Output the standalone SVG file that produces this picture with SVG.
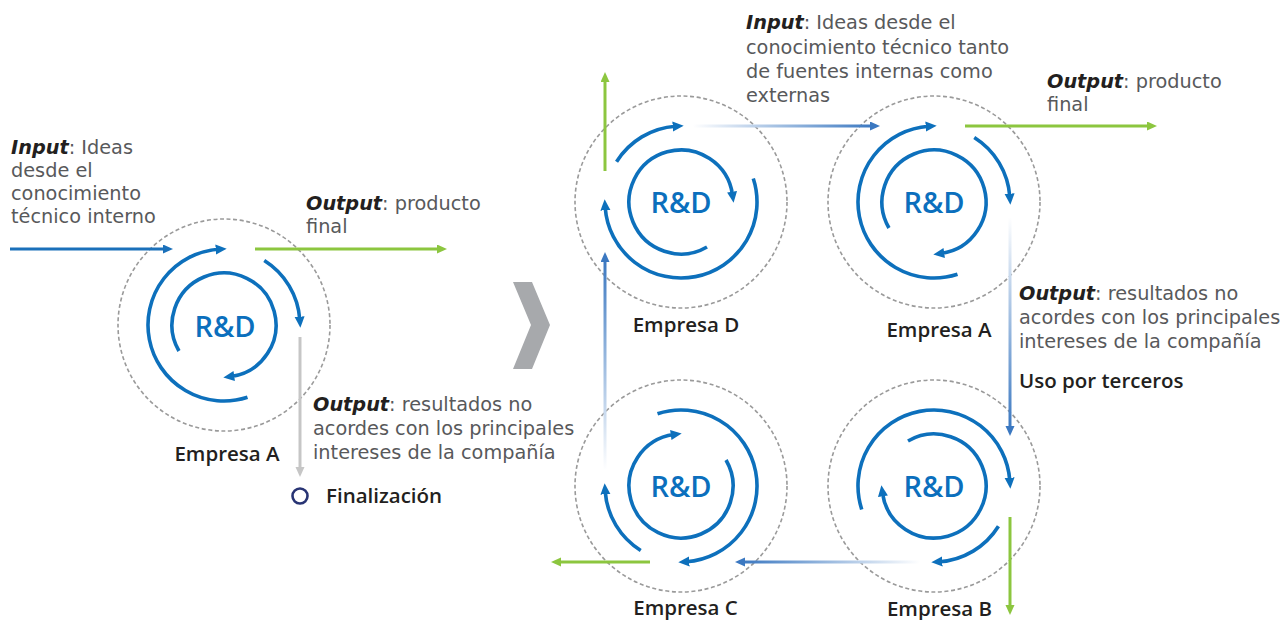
<svg xmlns="http://www.w3.org/2000/svg" width="1285" height="620" viewBox="0 0 1285 620">
  <style>
    .txt { font-family: "DejaVu Sans", "Open Sans", sans-serif; font-size: 19.3px; fill: #58595b; }
    .em { font-weight: 700; font-style: italic; fill: #231f20; }
    .lbl { font-family: "Open Sans", "Liberation Sans", sans-serif; font-size: 20.5px; font-weight: 600; fill: #231f20; }
    .rd { font-family: "Open Sans", "Liberation Sans", sans-serif; font-size: 29px; font-weight: 600; fill: #0b6fbd; text-anchor: middle; }
    .dash { fill: none; stroke: #9a9a9a; stroke-width: 1.6; stroke-dasharray: 4 2.6; }
    .arc { fill: none; stroke: #0d70bc; stroke-width: 3.6; marker-end: url(#ahArc); }
    .conn { fill: none; stroke-width: 3; }
  </style>
  <defs>
    <marker id="ahArc" markerUnits="userSpaceOnUse" markerWidth="12" markerHeight="11" refX="3" refY="5" orient="auto">
      <path d="M0,0 L11,5 L0,10 z" fill="#0d70bc"/>
    </marker>
    <marker id="ahBlue" markerUnits="userSpaceOnUse" markerWidth="11" markerHeight="10" refX="3" refY="4.5" orient="auto">
      <path d="M0,0 L10,4.5 L0,9 z" fill="#3b78c1"/>
    </marker>
    <marker id="ahSolid" markerUnits="userSpaceOnUse" markerWidth="11" markerHeight="10" refX="3" refY="4.5" orient="auto">
      <path d="M0,0 L10,4.5 L0,9 z" fill="#1a70ba"/>
    </marker>
    <marker id="ahGreen" markerUnits="userSpaceOnUse" markerWidth="11" markerHeight="10" refX="3" refY="4.5" orient="auto">
      <path d="M0,0 L10,4.5 L0,9 z" fill="#8cc63f"/>
    </marker>
    <marker id="ahGray" markerUnits="userSpaceOnUse" markerWidth="11" markerHeight="10" refX="3" refY="4.5" orient="auto">
      <path d="M0,0 L10,4.5 L0,9 z" fill="#c6c6c6"/>
    </marker>
    <linearGradient id="gDA" gradientUnits="userSpaceOnUse" x1="693" y1="0" x2="873" y2="0">
      <stop offset="0" stop-color="#ffffff"/><stop offset="1" stop-color="#3b78c1"/>
    </linearGradient>
    <linearGradient id="gAB" gradientUnits="userSpaceOnUse" x1="0" y1="217" x2="0" y2="429">
      <stop offset="0" stop-color="#ffffff"/><stop offset="1" stop-color="#3b78c1"/>
    </linearGradient>
    <linearGradient id="gBC" gradientUnits="userSpaceOnUse" x1="920" y1="0" x2="742" y2="0">
      <stop offset="0" stop-color="#ffffff"/><stop offset="1" stop-color="#3b78c1"/>
    </linearGradient>
    <linearGradient id="gCD" gradientUnits="userSpaceOnUse" x1="0" y1="470" x2="0" y2="259">
      <stop offset="0" stop-color="#ffffff"/><stop offset="1" stop-color="#3b78c1"/>
    </linearGradient>
    <g id="rings">
      <path class="arc" d="M -45.03 26 A 52 52 0 1 1 7.24 51.49"/>
      <path class="arc" d="M 23.49 72.28 A 76 76 0 1 1 -5.30 -75.81"/>
      <path class="arc" d="M 40.27 -64.45 A 76 76 0 0 1 75.81 -5.30"/>
    </g>
  </defs>

  <rect width="1285" height="620" fill="#ffffff"/>

  <!-- Left: closed model -->
  <g id="empresa-a-left">
    <circle class="dash" cx="224" cy="325" r="106"/>
    <use href="#rings" transform="translate(224,325)"/>
    <text class="rd" x="225" y="337">R&amp;D</text>
    <text class="lbl" x="227" y="461" text-anchor="middle">Empresa A</text>
  </g>

  <g id="finalizacion">
    <circle cx="300" cy="496" r="7.5" fill="none" stroke="#283474" stroke-width="2.6"/>
    <text class="lbl" x="326" y="503">Finalización</text>
  </g>

  <g id="chevron">
    <polygon points="513,282 532,282 550,325 532,369 513,369 531,325" fill="#a7a9ac"/>
  </g>

  <!-- Right: open model -->
  <g id="empresa-d">
    <circle class="dash" cx="681" cy="202" r="106"/>
    <use href="#rings" transform="translate(681,202) rotate(270)"/>
    <text class="rd" x="681" y="213">R&amp;D</text>
    <text class="lbl" x="686" y="332" text-anchor="middle">Empresa D</text>
  </g>
  <g id="empresa-a-right">
    <circle class="dash" cx="934" cy="202" r="106"/>
    <use href="#rings" transform="translate(934,202)"/>
    <text class="rd" x="934" y="213">R&amp;D</text>
    <text class="lbl" x="939" y="337" text-anchor="middle">Empresa A</text>
  </g>
  <g id="empresa-b">
    <circle class="dash" cx="934" cy="486" r="106"/>
    <use href="#rings" transform="translate(934,486) rotate(90)"/>
    <text class="rd" x="934" y="497">R&amp;D</text>
    <text class="lbl" x="939.5" y="616" text-anchor="middle">Empresa B</text>
  </g>
  <g id="empresa-c">
    <circle class="dash" cx="681" cy="486" r="106"/>
    <use href="#rings" transform="translate(681,486) rotate(180)"/>
    <text class="rd" x="681" y="497">R&amp;D</text>
    <text class="lbl" x="685.5" y="615" text-anchor="middle">Empresa C</text>
  </g>

  <g id="connectors">
    <path class="conn" d="M10,249 H166" stroke="#1a70ba" marker-end="url(#ahSolid)"/>
    <path class="conn" d="M255,249 H440" stroke="#8cc63f" marker-end="url(#ahGreen)"/>
    <path class="conn" d="M300,337 V470" stroke="#c6c6c6" marker-end="url(#ahGray)"/>

    <path class="conn" d="M693,126 H873" stroke="url(#gDA)" marker-end="url(#ahBlue)"/>
    <path class="conn" d="M965,126 H1150" stroke="#8cc63f" marker-end="url(#ahGreen)"/>
    <path class="conn" d="M1010,217 V429" stroke="url(#gAB)" marker-end="url(#ahBlue)"/>
    <path class="conn" d="M1010,517 V608" stroke="#8cc63f" marker-end="url(#ahGreen)"/>
    <path class="conn" d="M920,562 H742" stroke="url(#gBC)" marker-end="url(#ahBlue)"/>
    <path class="conn" d="M650,562 H558" stroke="#8cc63f" marker-end="url(#ahGreen)"/>
    <path class="conn" d="M605,470 V259" stroke="url(#gCD)" marker-end="url(#ahBlue)"/>
    <path class="conn" d="M605,171 V79" stroke="#8cc63f" marker-end="url(#ahGreen)"/>
  </g>

  <g id="labels">
    <text class="txt" x="11" y="154"><tspan class="em">Input</tspan>: Ideas</text>
    <text class="txt" x="11" y="177">desde el</text>
    <text class="txt" x="11" y="200">conocimiento</text>
    <text class="txt" x="11" y="223">técnico interno</text>

    <text class="txt" x="306" y="210"><tspan class="em">Output</tspan>: producto</text>
    <text class="txt" x="306" y="233">final</text>

    <text class="txt" x="313" y="411"><tspan class="em">Output</tspan>: resultados no</text>
    <text class="txt" x="313" y="435">acordes con los principales</text>
    <text class="txt" x="313" y="459">intereses de la compañía</text>

    <text class="txt" x="746" y="29"><tspan class="em">Input</tspan>: Ideas desde el</text>
    <text class="txt" x="746" y="54">conocimiento técnico tanto</text>
    <text class="txt" x="746" y="78">de fuentes internas como</text>
    <text class="txt" x="746" y="102">externas</text>

    <text class="txt" x="1047" y="88"><tspan class="em">Output</tspan>: producto</text>
    <text class="txt" x="1047" y="111">final</text>

    <text class="txt" x="1019" y="300"><tspan class="em">Output</tspan>: resultados no</text>
    <text class="txt" x="1019" y="324">acordes con los principales</text>
    <text class="txt" x="1019" y="348">intereses de la compañía</text>
    <text class="lbl" x="1019" y="388">Uso por terceros</text>
  </g>
</svg>
